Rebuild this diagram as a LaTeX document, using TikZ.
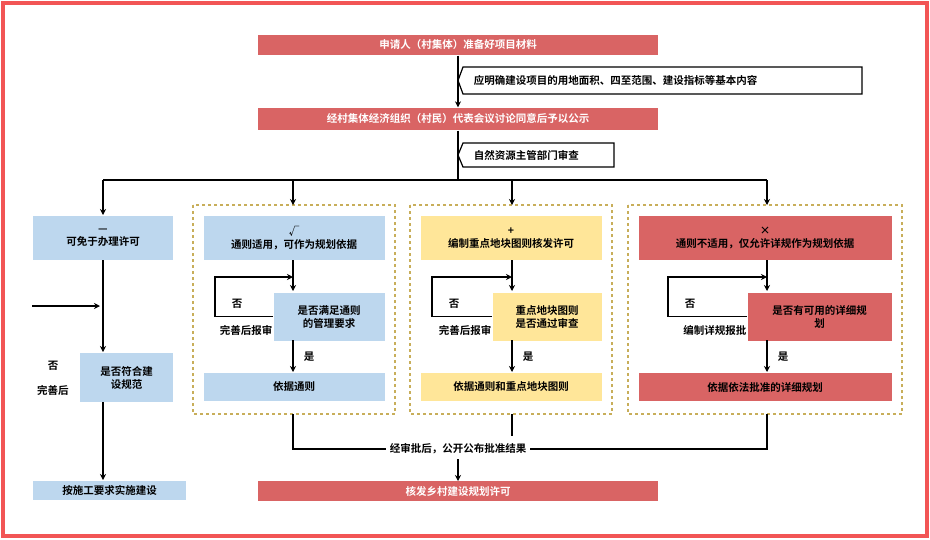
\documentclass[tikz,border=0pt]{standalone}
\usepackage{fontspec}
\setmainfont{Noto Sans CJK SC}[BoldFont={Noto Sans CJK SC Bold}]
\usetikzlibrary{arrows.meta}
\definecolor{redbox}{HTML}{D96464}
\definecolor{bluebox}{HTML}{BDD7EE}
\definecolor{yellowbox}{HTML}{FFE699}
\definecolor{frameline}{HTML}{F25555}
\definecolor{dashline}{HTML}{C8AE5A}

\begin{document}
\begin{tikzpicture}[x=1pt, y=-1pt, font=\bfseries\fontsize{10.5}{13}\selectfont,
	>={Stealth[length=6pt,width=6pt]}, line width=1.3pt]
	\tikzstyle{redStyle}=[fill = redbox, text = white, draw = none, inner sep = 0pt, align = center]
	\tikzstyle{blueStyle}=[fill = bluebox, draw = none, inner sep = 0pt, align = center]
	\tikzstyle{yellowStyle}=[fill = yellowbox, draw = none, inner sep = 0pt, align = center]
	\tikzstyle{pinkStyle}=[fill = redbox, draw = none, inner sep = 0pt, align = center]
	\tikzstyle{groupStyle}=[draw = dashline, dashed, line width = 1.2pt]
	\tikzstyle{calloutStyle}=[draw, fill = white, line width = 1.2pt]
	\tikzstyle{labelStyle}=[inner sep = 1pt]
	\useasboundingbox (0,0) rectangle (930,539);
	\fill[white] (0,0) rectangle (930,539);
	\draw[frameline, line width = 4pt] (3,3) rectangle (927,536);
	% top part
	\node[redStyle, minimum width = 400pt, minimum height = 20pt] (apply) at (458,45) {申请人（村集体）准备好项目材料};
	\node[redStyle, minimum width = 400pt, minimum height = 22pt] (publish) at (458,119) {经村集体经济组织（村民）代表会议讨论同意后予以公示};
	\draw[calloutStyle] (463,67) -- (862,67) -- (862,94) -- (463,94) -- (458,80.5) -- cycle;
	\node[anchor = west] (content) at (470,80.5) {应明确建设项目的用地面积、四至范围、建设指标等基本内容};
	\draw[calloutStyle] (463,143) -- (614,143) -- (614,167) -- (463,167) -- (458,155) -- cycle;
	\node[anchor = west] (review) at (470,155) {自然资源主管部门审查};
	\draw[->] (apply) -- (publish);
	\coordinate (split) at (458,180);
	\draw (publish) -- (split);
	\draw (103,180) -- (767,180);
	% column 1
	\node[blueStyle, minimum width = 140pt, minimum height = 44pt] (exempt) at (103,238) {—\\可免于办理许可};
	\node[blueStyle, minimum width = 93pt, minimum height = 49pt] (norm) at (126.5,377.5) {是否符合建\\设规范};
	\node[blueStyle, minimum width = 153pt, minimum height = 19pt] (build) at (109.5,490.5) {按施工要求实施建设};
	\coordinate (in) at (32,306);
	\draw[->] (103,180) -- (103,215);
	\draw[->] (103,260) -- (103,352);
	\draw[->] (in) -- (100,306);
	\draw[->] (103,402) -- (103,480);
	\node[labelStyle] (no0) at (53,366) {否};
	\node[labelStyle] (fix0) at (53,390) {完善后};
	% columns 2 to 4
	\foreach \cx/\fl/\fr/\st/\head/\ask/\lx/\fix/\res in {
		293/193/395/blueStyle/{√\\通则适用，可作为规划依据}/{是否满足通则\\的管理要求}/215/完善后报审/依据通则,
		512/410/612/yellowStyle/{+\\编制重点地块图则核发许可}/{重点地块图则\\是否通过审查}/432/完善后报审/依据通则和重点地块图则,
		767/628/902/pinkStyle/{×\\通则不适用，仅允许详规作为规划依据}/{是否有可用的详细规\\划}/668/编制详规报批/依据依法批准的详细规划}{
		\draw[groupStyle] (\fl,205) rectangle (\fr,414);
		\node[\st, minimum width = \fr-\fl-21, minimum height = 44pt] (head\cx) at ({(\fl+\fr)/2},238) {\head};
		\node[\st, anchor = north west, minimum height = 48pt, minimum width = \fr-\cx+9, text width = \fr-\cx-1] (ask\cx) at (\cx-20,292) {\ask};
		\node[\st, minimum width = \fr-\fl-21, minimum height = 28pt] (res\cx) at ({(\fl+\fr)/2},387) {\res};
		\draw[->] (\cx,180) -- (\cx,205);
		\draw[->] (\cx,260) -- (\cx,291);
		\draw[->] (ask\cx.west) -| (\lx,277) -- (\cx,277);
		\draw[->] (\cx,340) -- (\cx,372);
		\node[labelStyle] (no\cx) at (\lx+22,304) {否};
		\node[labelStyle, anchor = east] (fix\cx) at (\cx-19,330) {\fix};
		\node[labelStyle] (yes\cx) at (\cx+16,357) {是};
	}
	% bottom part
	\node[fill = white, inner sep = 3pt] (result) at (458,449) {经审批后，公开公布批准结果};
	\node[redStyle, minimum width = 400pt, minimum height = 20pt] (permit) at (458,491) {核发乡村建设规划许可};
	\draw (293,414) |- (result.west);
	\draw (767,414) |- (result.east);
	\draw (512,414) -- (512,436);
	\draw[->] (458,459) -- (458,481);
\end{tikzpicture}
\end{document}
